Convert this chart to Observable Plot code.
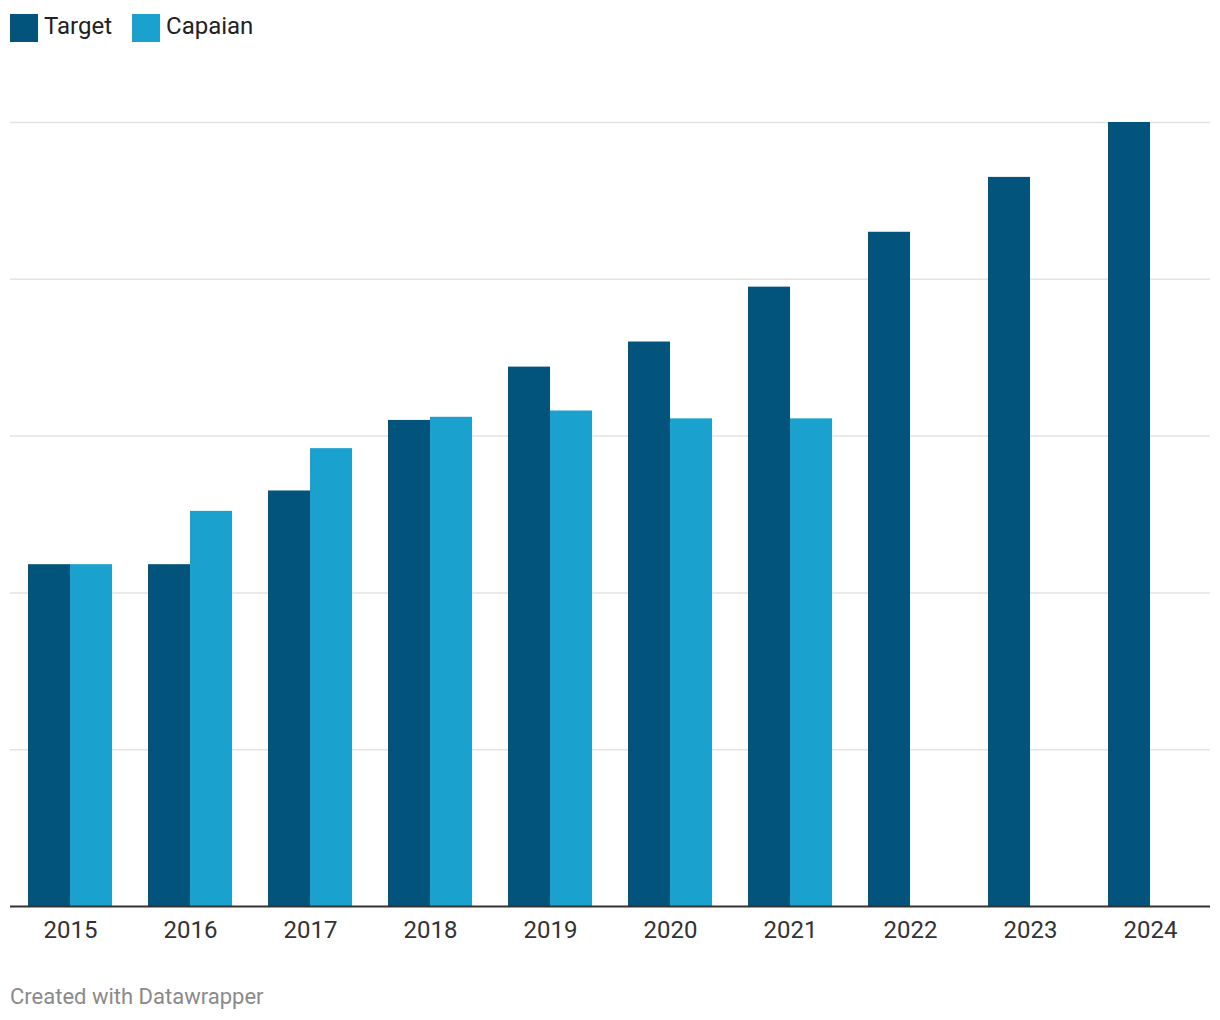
<!DOCTYPE html>
<html>
<head>
<meta charset="utf-8">
<script src="https://cdn.jsdelivr.net/npm/d3@7"></script>
<script src="https://cdn.jsdelivr.net/npm/@observablehq/plot@0.6"></script>
<style>
  html, body { margin: 0; padding: 0; background: #fff; }
  body { width: 1220px; height: 1020px; position: relative; font-family: Roboto, "Noto Sans", sans-serif; overflow: hidden; }
  #legend { position: absolute; left: 10px; top: 14px; height: 28px; display: flex; align-items: center; font-size: 24px; color: #222; }
  .item { display: flex; align-items: center; margin-right: 20px; }
  .item span { position: relative; top: -2px; }
  .sw { width: 28px; height: 28px; margin-right: 6px; }
  #chart { position: absolute; left: 0; top: 50px; }
  #footer { position: absolute; left: 10px; top: 984px; font-size: 22px; color: #8a8a8a; }
</style>
</head>
<body>
<div id="legend"></div>
<div id="chart"></div>
<div id="footer">Created with Datawrapper</div>
<script>
const years = ["2015","2016","2017","2018","2019","2020","2021","2022","2023","2024"];
const target = [4.36, 4.36, 5.3, 6.2, 6.88, 7.2, 7.9, 8.6, 9.3, 10];
const capaian = [4.36, 5.04, 5.84, 6.24, 6.32, 6.22, 6.22, null, null, null];
const seriesNames = ["Target", "Capaian"];
const colors = ["#02547d", "#1aa1ce"];
const gridTicks = [2, 4, 6, 8, 10];

const legend = document.getElementById("legend");
seriesNames.forEach((n, i) => {
  const it = document.createElement("div");
  it.className = "item";
  it.innerHTML = `<div class="sw" style="background:${colors[i]}"></div><span>${n}</span>`;
  legend.appendChild(it);
});

const tData = years.map((y, i) => ({year: y, value: target[i]}));
const cData = years.map((y, i) => ({year: y, value: capaian[i]})).filter(d => d.value != null);

const W = 1220, H = 900, mL = 10, mR = 10, mT = 72, mB = 44;
const step = (W - mL - mR) / 10;
const bw = step * 0.7;
const half = bw / 2;

const chart = Plot.plot({
  width: W,
  height: H,
  marginLeft: mL,
  marginRight: mR,
  marginTop: mT,
  marginBottom: mB,
  style: {fontFamily: "Roboto, 'Noto Sans', sans-serif", fontSize: "24px", color: "#333", background: "#fff"},
  x: {domain: years, paddingInner: 0.3, paddingOuter: 0.15, label: null},
  y: {domain: [0, 10], axis: null},
  marks: [
    Plot.ruleY(gridTicks, {stroke: "#e3e3e3", strokeWidth: 1.5}),
    Plot.barY(tData, {x: "year", y: "value", fill: colors[0], insetRight: half}),
    Plot.barY(cData, {x: "year", y: "value", fill: colors[1], insetLeft: half}),
    Plot.ruleY([0], {stroke: "#333", strokeWidth: 2}),
    Plot.axisX({tickSize: 0, tickPadding: 14, fontSize: 24, fill: "#333", label: null})
  ]
});
document.getElementById("chart").appendChild(chart);
</script>
</body>
</html>
